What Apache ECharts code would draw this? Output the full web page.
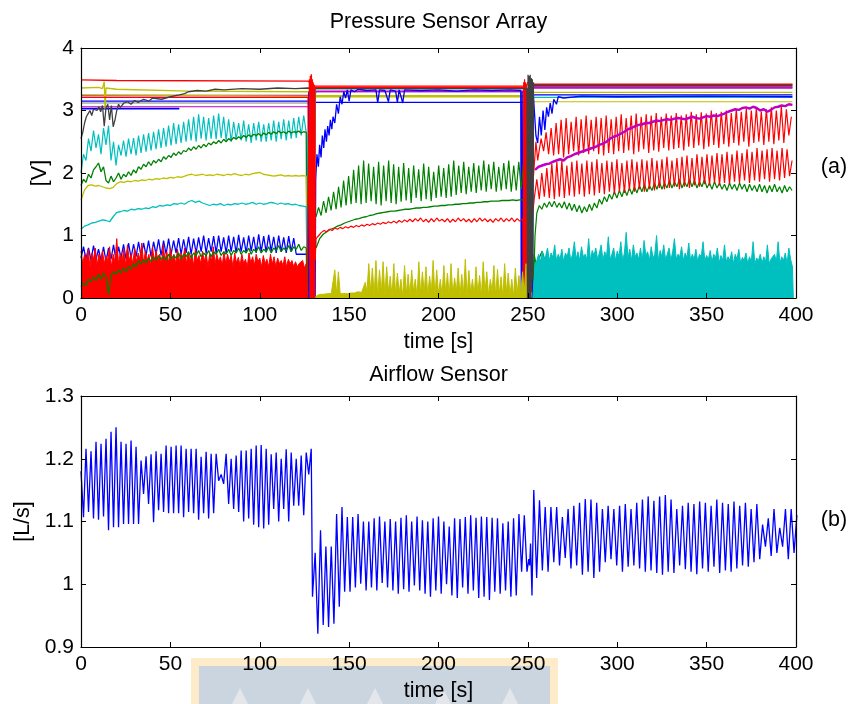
<!DOCTYPE html>
<html><head><meta charset="utf-8">
<script src="https://cdn.jsdelivr.net/npm/echarts@6/dist/echarts.min.js"></script>
<style>html,body{margin:0;padding:0;background:#fff}#c{width:851px;height:704px}</style>
</head><body><div id="c"></div>
<script>
// ================= DATA =================
const xMin = 0, xMax = 400, xStep = 50;
const vMin = 0, vMax = 4, vStep = 1;
const fMin = 0.9, fMax = 1.3, fStep = 0.1;

// ---- Pressure sensor array, segment 1 (0-127 s) ----
const redFillEnv1 = [0.75,0.55,0.7,0.6,0.78,0.5,0.72,0.62,0.8,0.52,0.7,0.58,0.76,0.55,0.68,0.6,0.82,0.5,0.7,0.58,0.95,0.55,0.72,0.6,0.78,0.52,0.85,0.6,0.7,0.55,
0.8,0.58,0.72,0.62,0.88,0.55,0.75,0.6,0.7,0.52,0.82,0.58,0.76,0.6,0.7,0.55,0.85,0.6,0.74,0.56,0.8,0.6,0.7,0.55,0.78,0.58,0.72,0.6,0.8,0.55,
0.74,0.58,0.7,0.52,0.78,0.6,0.68,0.55,0.75,0.58,0.72,0.5,0.7,0.6,0.82,0.55,0.7,0.58,0.66,0.52,0.74,0.55,0.7,0.58,0.68,0.5,0.72,0.56,0.65,0.52,
0.7,0.55,0.62,0.5,0.72,0.56,0.66,0.52,0.7,0.58,0.64,0.5,0.68,0.55,0.62,0.5,0.7,0.54,0.66,0.5,0.64,0.55,0.6,0.52,0.66,0.5,0.62,0.55,0.6,0.5,
0.58,0.5,0.55,0.52,0.6,0.48,0.55];
const blueOsc1 = [0.64,0.82,0.62,0.8,0.6,0.84,0.62,0.78,0.6,0.82,0.58,0.8,0.62,0.85,0.6,0.82,0.64,0.86,0.62,0.88,0.64,0.86,0.66,0.9,0.66,0.88,0.68,0.92,0.66,0.9,
0.7,0.94,0.68,0.92,0.7,0.95,0.7,0.92,0.72,0.96,0.7,0.94,0.72,0.98,0.7,0.95,0.72,0.97,0.74,1.0,0.72,0.96,0.74,0.99,0.72,1.0,0.74,0.97,0.72,1.0,
0.74,0.98,0.72,1.01,0.74,0.97,0.72,1.0,0.75,0.98,0.72,1.02,0.74,0.99,0.73,1.01,0.75,0.98,0.72,1.0,0.74,0.97,0.72,0.99,0.74,0.96,0.7];
const greenLow1 = [0.18,0.24,0.2,0.3,0.26,0.34,0.28,0.38,0.3,0.4,0.34,0.05,0.36,0.42,0.38,0.45,0.4,0.48,0.42,0.5,0.46,0.55,0.5,0.6,0.54,0.62,0.56,0.64,0.58,0.66,
0.6,0.68,0.62,0.66,0.6,0.7,0.62,0.68,0.64,0.72,0.62,0.7,0.66,0.74,0.64,0.72,0.68,0.76,0.66,0.72,0.68,0.76,0.66,0.74,0.7,0.78,0.68,0.74,0.7,0.78,
0.68,0.76,0.72,0.8,0.7,0.76,0.72,0.8,0.7,0.78,0.74,0.82,0.72,0.78,0.74,0.82,0.72,0.8,0.76,0.84,0.74,0.8,0.76,0.84,0.74,0.82,0.78,0.86,0.76,0.82,0.8];
const cyanLow1 = [1.1,1.15,1.17,1.2,1.21,1.23,1.25,1.24,1.22,1.3,1.37,1.38,1.4,1.39,1.42,1.41,1.43,1.42,1.44,1.43,1.46,1.45,1.48,1.47,1.49,1.48,1.51,1.5,1.52,1.5,
1.54,1.56,1.53,1.55,1.52,1.5,1.48,1.5,1.49,1.51,1.48,1.5,1.49,1.51,1.5,1.52,1.5,1.51,1.53,1.5,1.52,1.5,1.51,1.53,1.52,1.5,1.52,1.5,1.51,1.49,
1.5,1.48,1.47,1.46];
const yellow1 = [1.57,1.73,1.8,1.81,1.79,1.8,1.78,1.76,1.75,1.77,1.83,1.86,1.85,1.87,1.86,1.88,1.87,1.89,1.88,1.9,1.89,1.91,1.9,1.92,1.91,1.93,1.92,1.94,1.93,1.95,
1.97,1.98,1.96,1.97,1.98,1.96,1.97,1.96,1.98,1.97,1.96,1.98,1.97,1.99,1.97,1.96,1.98,1.97,1.99,2.0,2.01,1.98,1.97,1.96,1.95,1.96,1.97,1.95,1.96,1.95,
1.96,1.95,1.96,1.95];
const greenUp1 = [1.8,1.9,1.85,1.98,1.92,2.05,2.1,2.16,2.02,2.1,1.88,1.84,1.95,1.86,1.92,2.0,1.9,1.98,1.94,2.02,1.96,2.05,2.0,2.1,2.06,2.14,2.1,2.18,2.12,2.2,
2.16,2.22,2.18,2.26,2.22,2.28,2.25,2.32,2.28,2.34,2.3,2.36,2.34,2.4,2.36,2.42,2.38,2.44,2.4,2.46,2.42,2.48,2.45,2.5,2.47,2.52,2.48,2.54,2.5,2.55,
2.52,2.57,2.54,2.58,2.55,2.6,2.57,2.61,2.58,2.62,2.6,2.63,2.59,2.64,2.61,2.65,2.62,2.66,2.63,2.67,2.64,2.66,2.63,2.67,2.64,2.66,2.65,2.67,2.64,2.66,2.65];
const cyanOsc1 = [2.0,2.3,2.2,2.55,2.35,2.68,2.4,2.62,2.3,2.72,2.45,2.76,2.2,2.5,2.12,2.45,2.28,2.52,2.26,2.55,2.3,2.56,2.28,2.6,2.32,2.62,2.34,2.64,2.36,2.66,
2.38,2.7,2.4,2.72,2.42,2.76,2.44,2.8,2.46,2.78,2.48,2.82,2.5,2.86,2.52,2.9,2.5,2.94,2.55,2.9,2.52,2.88,2.55,2.92,2.54,2.95,2.56,2.9,2.52,2.86,
2.5,2.82,2.54,2.8,2.52,2.84,2.5,2.78,2.48,2.8,2.52,2.82,2.5,2.78,2.5,2.8,2.52,2.84,2.5,2.82,2.54,2.86,2.52,2.84,2.55,2.88,2.56,2.9,2.6,2.92,2.65];
const grayRise = [[0,2.55],[1,2.65],[2,2.8],[3,2.9],[4,2.95],[5,3.0],[6,2.92],[7,3.02],[8,3.05],[9,3.0],[10,3.06],[11,2.98],[12,3.08],[13,2.75],[14,3.05],[15,3.1],[16,2.85],[17,3.08],[18,2.74],[19,2.85],[20,3.0],[21,3.1],[22,3.05],[24,3.12],[26,3.14],[28,3.1],[30,3.16],[32,3.13],[35,3.18],[38,3.15],[40,3.2],[45,3.18],[50,3.22],[55,3.25],[58,3.27],[60,3.3],[65,3.32],[70,3.31],[75,3.34],[80,3.33],[90,3.35],[100,3.34],[110,3.36],[120,3.35],[127,3.36],[131,3.35],[249.5,3.35],[249.8,0],[250.1,3.57],[250.4,0],[250.7,3.55],[251,0],[251.3,3.57],[251.6,0],[251.9,3.52],[252.2,0.2],[252.5,3.5],[252.8,0.3],[253.1,3.45],[253.4,3.4],[398,3.4]];

// ---- flat (saturated) sensors across the three segments ----
const flatRed = [[0,3.49],[20,3.48],[127,3.47],[128,3.5],[131,3.39],[249,3.39],[250,3.45],[253,3.42],[398,3.42]];
const flatRed2 = [[0,3.21],[127,3.21],[127.3,0.2],[130,0.2],[131,3.37],[249,3.37],[249.3,0.1],[252,0.1],[253,3.41],[398,3.41]];
const flatYellowA = [[0,3.36],[10,3.37],[12,3.35],[13,3.46],[13.5,3.02],[14,3.36],[20,3.34],[60,3.31],[127,3.3],[131,3.22],[249,3.22],[250.5,0.2],[251,3.4],[253,3.29],[398,3.29]];
const flatYellowB = [[0,3.25],[127,3.23],[131,3.24],[249,3.24],[253,3.14],[398,3.14]];
const flatMagenta = [[0,3.24],[127,3.24],[131,3.31],[249,3.31],[253,3.36],[398,3.36]];
const flatMagenta2 = [[0,3.06],[128.7,3.06],[128.9,0.05],[129.1,3.1],[131.5,3.3],[249,3.3],[249.3,0.1],[249.6,3.3],[253,3.38],[398,3.38]];
const flatBlue = [[0,3.15],[127,3.15],[131,3.13],[249,3.13],[253,3.25],[398,3.25]];
const flatBlue2 = [[0,3.03],[55,3.03]];
const flatGray2 = [[0,3.12],[127,3.12],[131,3.3],[249,3.3],[253,3.37],[398,3.37]];
const cyanTail = [[126.5,2.6],[127,0.1],[130,0.1],[131.2,3.35],[249,3.35],[249.4,0.2],[252.6,0.2],[253,3.21],[398,3.21]];
const greenUpTail = [[126.3,2.66],[126.5,0],[252.5,0],[253.5,0.7],[254.5,0.55],[256,0.62],[258,0.75],[260,0.55],[262,0.6],[300,0.5],[398,0.5]];
const blueRec = [[126.6,0.7],[127,0],[127.4,3.3],[127.8,0],[128.2,3.3],[128.6,0],[131,0],[131.3,1.9],[132,2.3],[132.8,2.1],[133.5,2.45],[134.3,2.25],[135,2.6],[135.8,2.4],[136.5,2.7],[137.3,2.5],[138,2.75],[138.8,2.6],[139.5,2.85],[140.3,2.7],[141,2.9],[142,2.8],[143,3.1],[144,2.95],[145,3.22],[146,3.1],[147,3.3],[148,3.2],[149,3.33],[150,3.15],[151,3.33],[153,3.3],[155,3.34],[160,3.32],[165,3.33],[166,3.12],[167,3.33],[170,3.32],[172,3.14],[173,3.33],[176,3.31],[177,3.13],[178,3.33],[180,3.12],[181,3.33],[190,3.32],[200,3.33],[210,3.31],[220,3.33],[230,3.32],[240,3.33],[246,3.32],[246.3,0],[246.8,3.3],[247.2,0],[252.5,0],[253,3.3],[253.5,3.05],[254.5,2.6],[255.5,2.48],[256.5,2.9],[257.5,2.6],[258.5,3.0],[259.5,2.69],[260.5,3.05],[261.5,2.9],[262.5,3.12],[263.5,2.95],[264.5,3.18],[266,3.1],[267,3.22],[270,3.2],[280,3.23],[300,3.22],[350,3.23],[398,3.22]];
const redBurst1 = [[126.5,0],[127.6,0],[127.85,3.5],[128.1,0],[128.35,3.55],[128.6,0],[128.85,3.58],[129.1,0],[129.35,3.5],[129.6,0],[129.85,3.45],[130.1,0],[130.35,3.4],[130.6,0],[130.85,3.38],[131,0.9]];

// ---- segment 2 (131-249 s) ----
const greenOsc2 = [1.3,1.45,1.32,1.55,1.36,1.62,1.4,1.7,1.42,1.78,1.45,1.88,1.48,1.95,1.5,2.05,1.52,2.12,1.5,2.2,1.52,2.15,1.55,2.1,1.5,2.18,1.48,2.12,1.55,2.2,
1.52,2.14,1.5,2.1,1.54,2.16,1.56,2.08,1.52,2.12,1.6,2.06,1.55,2.15,1.58,2.1,1.55,2.02,1.6,2.12,1.62,2.08,1.6,2.14,1.62,2.2,1.65,2.12,1.68,2.18,
1.66,2.1,1.7,2.16,1.68,2.12,1.72,2.2,1.7,2.14,1.74,2.18,1.7,2.1,1.72,2.16,1.74,2.2,1.7,2.12,1.72,2.18,1.74,2.22,1.72];
const greenSm2 = [0.8,0.95,1.02,1.06,1.1,1.12,1.15,1.17,1.2,1.22,1.24,1.26,1.27,1.29,1.3,1.32,1.33,1.35,1.36,1.37,1.38,1.39,1.39,1.4,1.41,1.42,1.42,1.43,1.44,1.44,
1.45,1.45,1.46,1.47,1.47,1.48,1.48,1.49,1.49,1.5,1.5,1.51,1.51,1.52,1.52,1.53,1.53,1.54,1.54,1.55,1.55,1.55,1.56,1.56,1.56,1.57,1.56,1.57,1.57];
const redS2 = [0.95,1.0,1.05,1.08,1.06,1.1,1.08,1.12,1.1,1.13,1.11,1.14,1.12,1.15,1.13,1.16,1.14,1.17,1.15,1.18,1.16,1.19,1.17,1.2,1.18,1.21,1.19,1.22,1.2,1.23,
1.2,1.24,1.21,1.25,1.22,1.26,1.22,1.27,1.23,1.28,1.22,1.26,1.21,1.27,1.22,1.28,1.23,1.26,1.22,1.27,1.21,1.26,1.22,1.28,1.23,1.27,1.22,1.26,1.21,1.27,
1.22,1.28,1.23,1.27,1.22,1.26,1.21,1.27,1.23,1.28,1.22,1.27,1.23,1.28,1.22,1.27,1.23,1.26,1.24];
const yellowLow2 = [0.02,0.04,0.05,0.06,0.05,0.06,0.05,0.07,0.06,0.07,0.08,
0.45,0.06,0.42,0.07,0.08,0.07,0.08,0.07,0.09,0.08,0.07,0.08,0.09,0.1,0.08,0.09,0.12,0.25,0.1,
0.55,0.1,0.48,0.05,0.6,0.02,0.45,0.08,0.58,0.03,0.5,0.1,0.35,0.02,0.55,0.05,0.4,0.08,0.3,0.02,0.52,0.06,0.38,0.04,0.45,0.1,0.3,0.02,0.58,0.05,
0.42,0.08,0.5,0.03,0.35,0.1,0.6,0.02,0.45,0.06,0.3,0.04,0.52,0.08,0.4,0.02,0.55,0.05,0.32,0.1,0.48,0.03,0.38,0.07,0.62,0.02,0.44,0.08,0.3,0.04,
0.5,0.06,0.36,0.02,0.58,0.08,0.42,0.04,0.3,0.1,0.52,0.03,0.46,0.06,0.34,0.02,0.55,0.08,0.4,0.05,0.3,0.02,0.48,0.06,0.36,0.03,0.42,0.08,0.55];
const redBurst2 = [[247.2,1.25],[247.4,0],[247.65,3.45],[247.9,0],[248.15,3.5],[248.4,0],[248.65,3.45],[248.9,0],[249.15,3.4],[249.4,0.5],[252.5,1.3]];
const greenJoin23 = [[249.3,1.7],[249.6,0],[253,0],[254,1.0]];

// ---- segment 3 (253-398 s) ----
const green3 = [1.36,1.48,1.42,1.52,1.45,1.54,1.46,1.55,1.45,1.52,1.44,1.54,1.42,1.52,1.4,1.5,1.38,1.48,1.36,1.46,1.38,1.5,1.4,1.52,1.44,1.58,1.5,1.62,1.54,1.66,
1.58,1.7,1.6,1.72,1.62,1.74,1.64,1.76,1.66,1.78,1.68,1.8,1.7,1.82,1.7,1.8,1.72,1.84,1.74,1.86,1.74,1.84,1.76,1.88,1.76,1.86,1.78,1.9,1.76,1.86,
1.78,1.9,1.78,1.88,1.76,1.86,1.78,1.9,1.76,1.84,1.74,1.86,1.76,1.84,1.74,1.82,1.72,1.84,1.74,1.82,1.72,1.84,1.74,1.82,1.7,1.82,1.72,1.8,1.7,1.82,
1.7,1.8,1.68,1.8,1.7,1.82,1.7,1.78,1.68,1.8,1.7,1.78,1.72];
const redUpper3 = [2.3,2.55,2.35,2.65,2.3,2.72,2.28,2.8,2.3,2.85,2.25,2.88,2.3,2.82,2.35,2.9,2.28,2.86,2.32,2.92,2.3,2.85,2.35,2.9,2.3,2.88,2.28,2.92,2.32,2.86,
2.3,2.9,2.35,2.94,2.32,2.88,2.36,2.92,2.3,2.95,2.34,2.9,2.38,2.94,2.32,2.92,2.36,2.96,2.34,2.9,2.4,2.95,2.36,2.92,2.38,2.96,2.4,2.92,2.36,2.94,
2.42,2.98,2.4,2.94,2.44,2.97,2.38,2.95,2.42,3.0,2.45,2.96,2.4,2.98,2.46,3.0,2.42,2.96,2.48,3.02,2.44,2.98,2.5,3.03,2.42,3.0,2.48,3.04,2.5,2.98,
2.45,3.02,2.5,3.05,2.46,3.0,2.52,3.06,2.48,3.02,2.6,2.9];
const redUpperHead = [[251.5,0],[252,3.42],[253,1.9],[254.5,2.5],[255.5,2.2]];
const redLower3 = [1.6,1.9,1.58,2.0,1.62,2.08,1.6,2.15,1.58,2.18,1.62,2.2,1.6,2.12,1.64,2.18,1.62,2.2,1.66,2.15,1.62,2.2,1.66,2.18,1.64,2.22,1.68,2.16,1.66,2.2,
1.7,2.18,1.66,2.22,1.7,2.16,1.68,2.2,1.72,2.22,1.7,2.18,1.74,2.22,1.7,2.2,1.74,2.24,1.72,2.2,1.76,2.22,1.74,2.26,1.76,2.2,1.78,2.24,1.74,2.26,
1.78,2.28,1.76,2.24,1.8,2.3,1.78,2.26,1.82,2.3,1.8,2.28,1.84,2.32,1.8,2.3,1.84,2.34,1.82,2.3,1.86,2.36,1.84,2.32,1.88,2.38,1.84,2.34,1.88,2.4,
1.86,2.36,1.9,2.38,1.86,2.4,1.9,2.36,1.88,2.4,1.92,2.38,1.95,2.2];
const magentaRise3 = [2.05,2.1,2.12,2.14,2.15,2.18,2.2,2.22,2.2,2.25,2.27,2.3,2.32,2.34,2.36,2.38,2.4,2.42,2.45,2.47,2.5,2.55,2.58,2.6,2.63,2.66,2.7,2.72,2.75,2.77,
2.78,2.8,2.8,2.82,2.84,2.83,2.85,2.86,2.85,2.87,2.88,2.87,2.86,2.88,2.9,2.88,2.87,2.89,2.91,2.9,2.92,2.91,2.93,2.95,2.98,3.0,3.02,3.01,3.04,3.05,
3.03,3.06,3.04,3.0,3.02,2.98,3.01,3.05,3.06,3.08,3.07,3.1,3.09];
const cyanEnv3 = [0.1,0.55,0.6,0.7,0.58,0.75,0.62,0.68,0.8,0.6,0.72,0.65,0.85,0.6,0.7,0.62,0.78,0.58,0.72,0.66,0.8,0.6,0.7,0.9,0.62,0.74,0.6,0.82,0.66,0.7,
0.62,0.95,0.6,0.76,0.68,0.8,0.62,0.72,0.85,0.6,0.74,0.66,0.98,0.62,0.7,0.8,0.6,0.75,0.66,0.9,0.6,0.72,1.05,0.64,0.78,0.6,0.85,0.66,0.72,0.62,
0.8,0.6,0.92,0.68,0.74,0.6,0.82,0.64,0.7,1.0,0.6,0.76,0.66,0.85,0.62,0.7,0.8,0.6,0.74,0.95,0.62,0.7,0.66,0.82,0.6,0.72,0.64,0.88,0.6,0.7,
0.62,0.78,0.58,0.7,0.66,0.9,0.6,0.68,0.62,0.76,0.58,0.7,0.64,0.8,0.56,0.68,0.6,0.85,0.58,0.66,0.6,0.74,0.55,0.7,0.62,0.78,0.56,0.65,0.6,0.72,
0.55,0.66,0.58,0.9,0.55,0.64,0.6,0.7,0.56,0.66,0.58,0.85,0.55,0.62,0.6,0.7,0.58,0.9,0.56,0.66,0.6,0.72,0.55,0.8,0.62,0.5];

// ---- Airflow sensor (L/s) ----
const airA = [1.18,1.107,1.216,1.115,1.212,1.105,1.227,1.103,1.224,1.108,
1.232,1.086,1.243,1.091,1.25,1.091,1.227,1.096,1.224,1.096,
1.229,1.096,1.219,1.096,1.197,1.144,1.204,1.128,1.207,1.099,
1.212,1.118,1.208,1.115,1.221,1.113,1.219,1.113,1.221,1.113,
1.221,1.107,1.216,1.115,1.216,1.113,1.216,1.103,1.203,1.113,
1.211,1.105,1.208,1.113,1.208,1.165,1.175,1.16,1.208,1.128,
1.2,1.12,1.205,1.115,1.213,1.1,1.213,1.105,1.216,1.095,
1.221,1.091,1.222,1.089,1.216,1.095,1.207,1.12,1.21,1.1,
1.2,1.12,1.215,1.1,1.21,1.125,1.2,1.125,1.205,1.11,
1.21,1.175,1.216];
const airB = [0.98,1.05,0.921,1.086,0.935,1.06,0.932,1.06,0.937,1.112,
0.964,1.123,0.988,1.107,0.988,1.107,0.995,1.112,1.001,1.1,
0.99,1.1,0.995,1.105,0.99,1.108,1.002,1.1,0.995,1.104,
0.99,1.1,0.985,1.106,0.992,1.11,0.988,1.1,0.998,1.108,
0.99,1.102,0.985,1.1,0.98,1.105,0.99,1.108,0.985,1.1,
1.0,1.092,0.982,1.105,0.978,1.104,0.995,1.107,0.985,1.11,
0.99,1.106,0.978,1.108,0.98,1.107,0.975,1.106,0.988,1.105,
0.985,1.097,0.99,1.1,0.98,1.105,0.982,1.112,1.02,1.11,
1.02];
const airJoin = [[250.5,1.04],[251,1.03],[251.5,1.065],[252.3,0.982]];
const airC = [1.15,1.01,1.134,1.022,1.123,1.02,1.123,1.035,1.123,1.03,
1.107,1.042,1.12,1.025,1.125,1.03,1.13,1.015,1.136,1.02,
1.135,1.01,1.13,1.02,1.12,1.035,1.125,1.04,1.12,1.03,
1.125,1.02,1.128,1.028,1.12,1.03,1.13,1.025,1.135,1.02,
1.14,1.022,1.133,1.018,1.14,1.015,1.142,1.02,1.135,1.018,
1.12,1.03,1.125,1.024,1.13,1.02,1.128,1.016,1.132,1.025,
1.13,1.02,1.125,1.028,1.135,1.018,1.13,1.022,1.128,1.02,
1.132,1.025,1.125,1.03,1.13,1.028,1.12,1.035,1.128,1.04,
1.095,1.06,1.105,1.045,1.12,1.05,1.09,1.06,1.12,1.04,
1.12,1.05,1.11];

// ================= BUILD =================
function seq(t0, dt, vals){ return vals.map((v,i)=>[+(t0+i*dt).toFixed(3), v]); }
const C = {b:'#0000ff', g:'#008000', r:'#ff0000', c:'#00bfbf', m:'#bf00bf', y:'#bfbf00', k:'#404040'};
const FONT = "'Liberation Sans', Arial, Helvetica, sans-serif";

function ln(data, color, width, gi, extra){
  return Object.assign({type:'line', data, xAxisIndex: gi?2:0, yAxisIndex: gi?2:0, symbol:'none', showSymbol:false,
    lineStyle:{color, width: width||1.2}, itemStyle:{color}, silent:true, animation:false, z:2}, extra||{});
}
function area(data, color){ return ln(data, color, 1, 0, {z:3, areaStyle:{color, opacity:1}}); }

const series = [
  ln(flatBlue2, C.b, 1.6),
  ln(flatGray2, '#808080', 1.2),
  ln(flatBlue, C.b, 1.2),
  ln(flatMagenta, C.m, 1.3),
  ln(flatMagenta2, C.m, 1.2),
  ln(flatYellowB, C.y, 1.2),
  ln(flatYellowA, C.y, 1.3),
  ln(flatRed2, C.r, 1.2),
  ln(flatRed, C.r, 1.3),
  ln(seq(0,1.4,cyanOsc1).concat(cyanTail), C.c, 1.2),
  ln(seq(0,1.4,greenUp1).concat(greenUpTail), C.g, 1.3),
  ln(seq(0,2,yellow1).concat([[126.5,1.95],[126.8,0]]), C.y, 1.3),
  ln(seq(0,2,cyanLow1).concat([[126.3,1.46],[126.6,0]]), C.c, 1.3),
  ln(seq(0,1.4,blueOsc1).concat(blueRec), C.b, 1.3),
  area(seq(0,1,redFillEnv1).concat([[126.5,0]]), C.r),
  ln(seq(0,1.4,greenLow1).concat([[126.4,0.8],[126.6,0]]), C.g, 1.3, 0, {z:4}),
  ln(seq(131.5,1.4,greenOsc2).concat(greenJoin23, seq(255,1.4,green3)), C.g, 1.2),
  ln(seq(131.5,2,greenSm2).concat([[248.5,1.57],[249,0]]), C.g, 1.3),
  area([[130.8,0]].concat(seq(131,1,yellowLow2),[[249.3,0]]), C.y),
  ln([[131,0.6]].concat(seq(131.5,1.5,redS2), redBurst2, seq(253.6,1.4,redLower3)), C.r, 1.2),
  area([[252.8,0]].concat(seq(253,1,cyanEnv3),[[398.5,0]]), C.c),
  ln(redUpperHead.concat(seq(256,1.4,redUpper3)), C.r, 1.2),
  ln(seq(254,2,magentaRise3), C.m, 2.4),
  ln(grayRise, C.k, 1.3, 0, {z:4}),
  ln(redBurst1, C.r, 1.5, 0, {z:5}),
  ln(seq(0,1.4,airA).concat(seq(129.5,1.5,airB), airJoin, seq(253.3,1.6,airC)), C.b, 1.3, 1)
];

function xAx(gi, pos, labels, name){
  return {type:'value', gridIndex:gi, position:pos, min:xMin, max:xMax, interval:xStep,
    axisLine:{show:true, onZero:false, lineStyle:{color:'#000', width:1.2}},
    axisTick:{show:true, inside:true, length:5, lineStyle:{color:'#000'}},
    axisLabel:{show:labels, color:'#000', fontSize:21, fontFamily:FONT, margin:7},
    splitLine:{show:false}, z:6,
    name: name||'', nameLocation:'middle', nameGap:33, nameTextStyle:{color:'#000', fontSize:21.5, fontFamily:FONT}};
}
function yAx(gi, pos, labels, mn, mx, st, name, gap, fmt){
  return {type:'value', gridIndex:gi, position:pos, min:mn, max:mx, interval:st,
    axisLine:{show:true, onZero:false, lineStyle:{color:'#000', width:1.2}},
    axisTick:{show:true, inside:true, length:5, lineStyle:{color:'#000'}},
    axisLabel:{show:labels, color:'#000', fontSize:21, fontFamily:FONT, margin:7, formatter: fmt},
    splitLine:{show:false}, z:6,
    name: name||'', nameLocation:'middle', nameGap:gap||30, nameTextStyle:{color:'#000', fontSize:21.5, fontFamily:FONT}};
}
const fmt1 = v => String(Math.round(v*10)/10);

const option = {
  animation:false,
  backgroundColor:'#fff',
  textStyle:{fontFamily:FONT},
  grid:[{left:81, top:48, width:715, height:250}, {left:81, top:396, width:715, height:251}],
  xAxis:[xAx(0,'bottom',true,'time [s]'), xAx(0,'top',false), xAx(1,'bottom',true,'time [s]'), xAx(1,'top',false)],
  yAxis:[yAx(0,'left',true,vMin,vMax,vStep,'[V]',28), yAx(0,'right',false,vMin,vMax,vStep),
         yAx(1,'left',true,fMin,fMax,fStep,'[L/s]',47,fmt1), yAx(1,'right',false,fMin,fMax,fStep)],
  graphic:[
    {type:'rect', z:-10, shape:{x:191,y:658,width:367,height:46}, style:{fill:'#fdebc9'}},
    {type:'rect', z:-9, shape:{x:199,y:666,width:351,height:38}, style:{fill:'#cbd5df'}},
    {type:'polygon', z:-8, shape:{points:[[232,704],[240,688],[248,704]]}, style:{fill:'#e3e7ec'}},
    {type:'polygon', z:-8, shape:{points:[[300,704],[308,688],[316,704]]}, style:{fill:'#e3e7ec'}},
    {type:'polygon', z:-8, shape:{points:[[367,704],[375,688],[383,704]]}, style:{fill:'#e3e7ec'}},
    {type:'polygon', z:-8, shape:{points:[[435,704],[443,688],[451,704]]}, style:{fill:'#e3e7ec'}},
    {type:'polygon', z:-8, shape:{points:[[502,704],[510,688],[518,704]]}, style:{fill:'#e3e7ec'}},
    {type:'text', x:438.5, y:22, style:{text:'Pressure Sensor Array', fill:'#000', font:'21.5px '+FONT, textAlign:'center', textVerticalAlign:'middle'}},
    {type:'text', x:438.5, y:375, style:{text:'Airflow Sensor', fill:'#000', font:'21.5px '+FONT, textAlign:'center', textVerticalAlign:'middle'}},
    {type:'text', x:834, y:167, style:{text:'(a)', fill:'#000', font:'21.5px '+FONT, textAlign:'center', textVerticalAlign:'middle'}},
    {type:'text', x:834, y:520, style:{text:'(b)', fill:'#000', font:'21.5px '+FONT, textAlign:'center', textVerticalAlign:'middle'}}
  ],
  series
};
const chart = echarts.init(document.getElementById('c'));
chart.setOption(option);
</script></body></html>
